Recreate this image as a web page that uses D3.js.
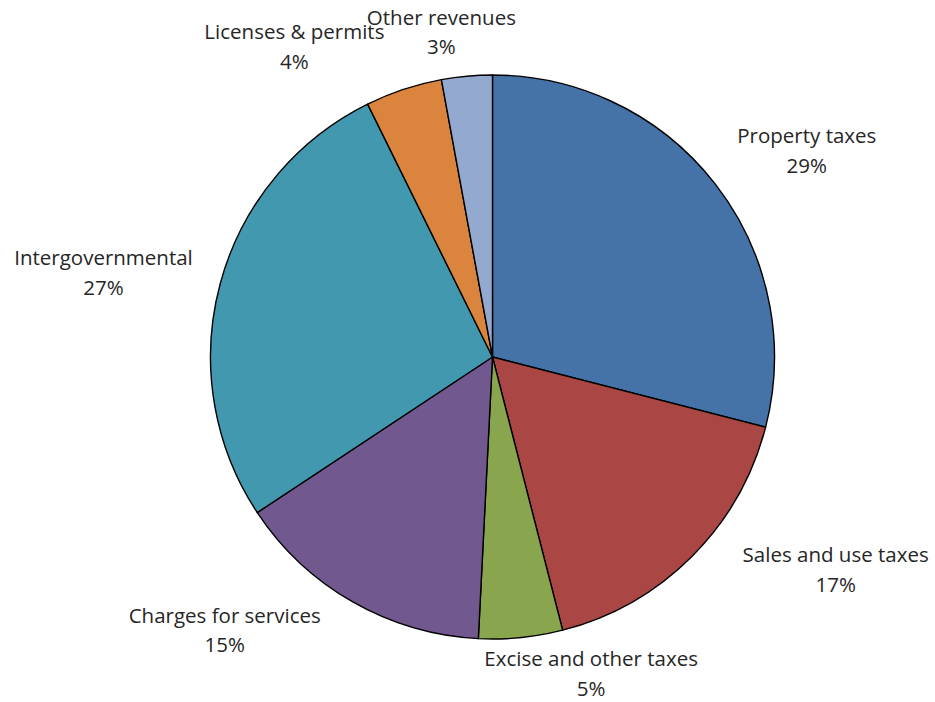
<!DOCTYPE html>
<html>
<head>
<meta charset="utf-8">
<script src="https://cdn.jsdelivr.net/npm/d3@7"></script>
<style>
  html, body { margin: 0; padding: 0; background: #fff; }
  svg { display: block; }
  text { font-family: "Open Sans", "Noto Sans", sans-serif; fill: #262626; }
</style>
</head>
<body>
<svg id="chart" width="935" height="702"></svg>
<script>
// ---- data ----
const categories = ["Property taxes", "Sales and use taxes", "Excise and other taxes",
  "Charges for services", "Intergovernmental", "Licenses & permits", "Other revenues"];
const values = [29.0, 17.0, 4.8, 14.9, 27.0, 4.4, 2.9];
const percentLabels = ["29%", "17%", "5%", "15%", "27%", "4%", "3%"];
const colors = ["#4572A7", "#AA4643", "#89A54E", "#71588F", "#4198AF", "#DB843D", "#93A9CF"];

// ---- layout ----
const width = 935, height = 702;
const cx = 492.5, cy = 357, radius = 282;
const labelRadius = 375;
// manual label offsets (Excel "best fit" placement) relative to the mid-angle label point
const labelNudge = [[18, 16], [78, -60], [61, -64], [-82, -60], [-27, 6], [-80, 38], [-17, 41]];

const svg = d3.select("#chart");
const g = svg.append("g").attr("transform", `translate(${cx},${cy})`);

const pie = d3.pie().sort(null).value(d => d.value);
const data = categories.map((c, i) => ({ name: c, value: values[i], pct: percentLabels[i], color: colors[i] }));
const arcs = pie(data);

const arc = d3.arc().innerRadius(0).outerRadius(radius);

g.selectAll("path.slice")
  .data(arcs)
  .join("path")
  .attr("class", "slice")
  .attr("d", arc)
  .attr("fill", d => d.data.color)
  .attr("stroke", "#000")
  .attr("stroke-width", 1.4)
  .attr("stroke-linejoin", "round");

const labelArc = d3.arc().innerRadius(labelRadius).outerRadius(labelRadius);

const labels = g.selectAll("text.label")
  .data(arcs)
  .join("text")
  .attr("class", "label")
  .attr("text-anchor", "middle")
  .attr("font-size", 20.5)
  .attr("transform", (d, i) => {
    const [x, y] = labelArc.centroid(d);
    return `translate(${x + labelNudge[i][0]},${y + labelNudge[i][1]})`;
  });

labels.append("tspan").attr("x", 0).attr("y", 0).text(d => d.data.name);
labels.append("tspan").attr("x", 0).attr("y", 29.5).text(d => d.data.pct);
</script>
</body>
</html>
